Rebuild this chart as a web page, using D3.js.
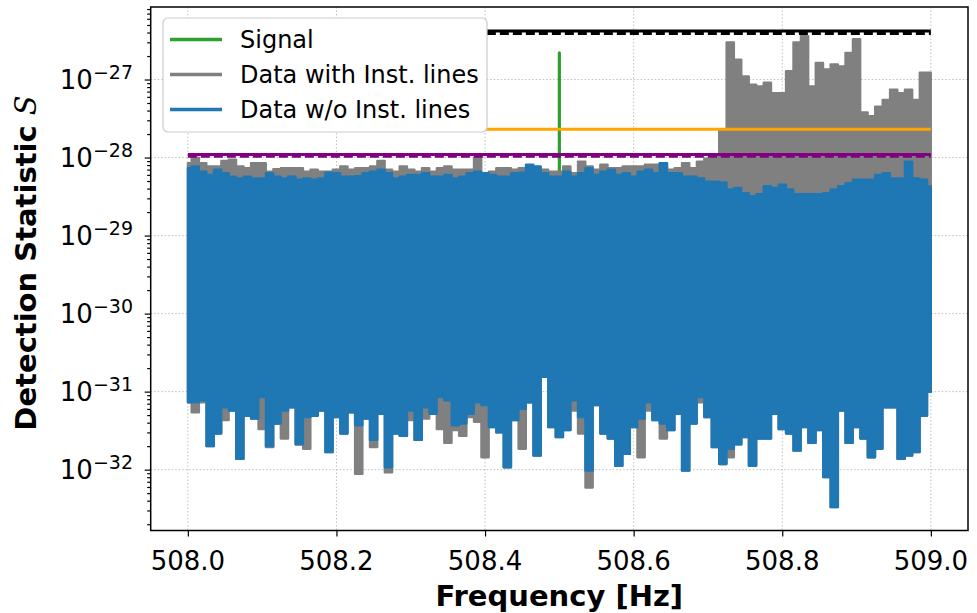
<!DOCTYPE html>
<html>
<head>
<meta charset="utf-8">
<script src="https://cdn.jsdelivr.net/npm/d3@7"></script>
<style>
body { margin: 0; background: white; }
svg { display: block; font-family: "DejaVu Sans", sans-serif; }
</style>
</head>
<body>
<svg id="chart" width="977" height="613"></svg>
<script>
// frequency bins (Hz), read every 0.01 Hz
var freqs = [508.00,508.01,508.02,508.03,508.04,508.05,508.06,508.07,508.08,508.09,
  508.10,508.11,508.12,508.13,508.14,508.15,508.16,508.17,508.18,508.19,
  508.20,508.21,508.22,508.23,508.24,508.25,508.26,508.27,508.28,508.29,
  508.30,508.31,508.32,508.33,508.34,508.35,508.36,508.37,508.38,508.39,
  508.40,508.41,508.42,508.43,508.44,508.45,508.46,508.47,508.48,508.49,
  508.50,508.51,508.52,508.53,508.54,508.55,508.56,508.57,508.58,508.59,
  508.60,508.61,508.62,508.63,508.64,508.65,508.66,508.67,508.68,508.69,
  508.70,508.71,508.72,508.73,508.74,508.75,508.76,508.77,508.78,508.79,
  508.80,508.81,508.82,508.83,508.84,508.85,508.86,508.87,508.88,508.89,
  508.90,508.91,508.92,508.93,508.94,508.95,508.96,508.97,508.98,508.99,
  509.00];

// "Data with Inst. lines": upper / lower envelope of the dense trace
var greyHigh = [8.5e-29,1.0e-28,8.5e-29,7.7e-29,7.7e-29,9.1e-29,9.4e-29,7.7e-29,7.3e-29,8.5e-29,
  8.5e-29,6.6e-29,7.1e-29,7.3e-29,7.3e-29,7.3e-29,6.6e-29,7.0e-29,6.6e-29,6.6e-29,
  7.0e-29,7.7e-29,7.0e-29,7.3e-29,7.3e-29,7.7e-29,9.1e-29,7.0e-29,6.6e-29,7.7e-29,
  7.0e-29,6.6e-29,7.3e-29,6.6e-29,7.3e-29,7.7e-29,7.0e-29,7.0e-29,7.0e-29,1.0e-28,
  6.3e-29,6.6e-29,7.3e-29,7.3e-29,7.0e-29,7.3e-29,7.0e-29,7.3e-29,7.0e-29,6.6e-29,
  6.6e-29,7.7e-29,6.3e-29,8.9e-29,7.7e-29,7.0e-29,8.1e-29,7.3e-29,7.3e-29,7.7e-29,
  7.7e-29,7.7e-29,8.1e-29,8.1e-29,8.5e-29,7.0e-29,7.3e-29,8.5e-29,7.3e-29,8.9e-29,
  9.7e-29,1.03e-28,2.3e-28,3.0e-27,1.8e-27,1.1e-27,8.6e-28,8.2e-28,9.1e-28,6.7e-28,
  6.7e-28,1.28e-27,3.0e-27,3.6e-27,8.2e-28,1.64e-27,1.35e-27,1.56e-27,1.48e-27,2.2e-27,
  3.3e-27,3.8e-28,3.4e-28,4.5e-28,5.5e-28,7.4e-28,6.7e-28,7.4e-28,5.5e-28,1.23e-27,
  1.23e-27];
var greyLow = [7.3e-32,5.4e-32,7.3e-32,2.0e-32,2.9e-32,4.3e-32,5.7e-32,1.37e-32,4.9e-32,4.5e-32,
  3.3e-32,1.94e-32,3.9e-32,2.5e-32,6.3e-32,2.1e-32,1.85e-32,4.9e-32,5.7e-32,1.67e-32,
  4.7e-32,2.9e-32,5.4e-32,8.8e-33,4.5e-32,1.94e-32,5.2e-32,9.2e-33,2.9e-32,2.7e-32,
  4.3e-32,2.4e-32,4.5e-32,5.2e-32,3.3e-32,2.2e-32,3.2e-32,2.7e-32,4.7e-32,4.1e-32,
  1.44e-32,3.5e-32,3.0e-32,1.07e-32,4.3e-32,1.85e-32,7.3e-32,1.51e-32,1.54e-31,3.5e-32,
  2.6e-32,3.2e-32,5.7e-32,2.9e-32,5.9e-33,6.7e-32,2.9e-32,2.5e-32,1.12e-32,1.59e-32,
  3.5e-32,1.44e-32,5.7e-32,4.3e-32,2.5e-32,3.2e-32,5.2e-32,9.7e-33,3.9e-32,7.3e-32,
  4.7e-32,1.94e-32,1.18e-32,1.44e-32,2.1e-32,2.6e-32,1.12e-32,2.5e-32,2.5e-32,5.2e-32,
  3.3e-32,2.9e-32,1.75e-32,3.5e-32,2.2e-32,3.2e-32,8.0e-33,3.3e-33,5.7e-32,2.2e-32,
  3.5e-32,2.5e-32,1.44e-32,1.85e-32,6.3e-32,6.3e-32,1.37e-32,1.51e-32,1.67e-32,4.9e-32,
  9.9e-32];

// "Data w/o Inst. lines"
var blueHigh = [7.3e-29,7.7e-29,6.6e-29,6.0e-29,7.0e-29,6.3e-29,5.7e-29,5.4e-29,5.7e-29,5.4e-29,
  5.4e-29,6.3e-29,5.7e-29,5.4e-29,5.7e-29,5.2e-29,5.4e-29,5.2e-29,5.4e-29,6.4e-29,
  6.3e-29,5.7e-29,5.7e-29,5.8e-29,6.3e-29,6.6e-29,7.0e-29,6.3e-29,5.4e-29,5.7e-29,
  6.0e-29,6.0e-29,6.3e-29,5.7e-29,5.7e-29,6.0e-29,5.4e-29,5.7e-29,6.3e-29,6.6e-29,
  6.3e-29,6.0e-29,5.7e-29,5.7e-29,6.3e-29,6.4e-29,8.1e-29,7.7e-29,6.3e-29,5.7e-29,
  5.7e-29,6.6e-29,5.7e-29,6.3e-29,7.3e-29,6.0e-29,6.6e-29,7.0e-29,6.0e-29,6.3e-29,
  5.7e-29,6.6e-29,7.0e-29,6.3e-29,8.5e-29,6.3e-29,6.3e-29,5.7e-29,5.7e-29,5.4e-29,
  4.9e-29,4.9e-29,4.8e-29,3.9e-29,4.1e-29,3.5e-29,3.2e-29,3.4e-29,4.3e-29,4.1e-29,
  4.5e-29,3.9e-29,3.4e-29,3.4e-29,3.4e-29,3.4e-29,3.5e-29,3.9e-29,4.3e-29,4.7e-29,
  5.2e-29,5.2e-29,5.2e-29,6.0e-29,6.3e-29,5.4e-29,5.4e-29,8.9e-29,5.4e-29,5.2e-29,
  4.3e-29];
var blueLow = [7.3e-32,7.3e-32,7.7e-32,2.0e-32,2.9e-32,6.3e-32,5.7e-32,1.37e-32,4.9e-32,4.5e-32,
  8.5e-32,2.0e-32,3.9e-32,5.7e-32,6.3e-32,2.1e-32,4.7e-32,4.9e-32,5.7e-32,1.67e-32,
  4.7e-32,2.9e-32,5.4e-32,3.7e-32,4.5e-32,2.4e-32,5.2e-32,1.07e-32,2.9e-32,2.7e-32,
  5.7e-32,2.4e-32,6.3e-32,5.2e-32,8.5e-32,7.7e-32,3.7e-32,3.9e-32,5.2e-32,7.3e-32,
  6.7e-32,3.5e-32,3.0e-32,1.07e-32,4.3e-32,6.0e-32,7.3e-32,1.51e-32,1.54e-31,3.5e-32,
  2.6e-32,3.2e-32,7.7e-32,4.7e-32,9.7e-33,6.7e-32,2.9e-32,2.5e-32,1.12e-32,1.59e-32,
  3.5e-32,4.5e-32,7.3e-32,4.3e-32,3.9e-32,3.2e-32,5.2e-32,9.7e-33,3.9e-32,8.5e-32,
  4.7e-32,1.94e-32,1.18e-32,1.85e-32,2.1e-32,2.6e-32,1.12e-32,2.5e-32,2.5e-32,5.2e-32,
  3.3e-32,2.9e-32,1.75e-32,3.5e-32,2.2e-32,3.2e-32,8.0e-33,3.3e-33,5.7e-32,2.2e-32,
  3.5e-32,2.5e-32,1.44e-32,1.85e-32,6.3e-32,6.3e-32,1.37e-32,1.51e-32,1.67e-32,4.9e-32,
  9.9e-32];

// injected signal spike
var signalFreqs = [508.5, 508.5];
var signalValues = [5.5e-29, 2.2e-27];

// horizontal threshold lines
var hlineValues = [3.9e-27, 4.2e-27, 2.3e-28, 1.04e-28, 1.09e-28];
var hlineColors = ["black", "black", "orange", "purple", "purple"];
var hlineDashed = [true, false, false, true, false];

var xTicks = [508.0, 508.2, 508.4, 508.6, 508.8, 509.0];
var yTicks = [1e-32, 1e-31, 1e-30, 1e-29, 1e-28, 1e-27];
var yTickExps = ["\u221232", "\u221231", "\u221230", "\u221229", "\u221228", "\u221227"];

var legendLabels = ["Signal", "Data with Inst. lines", "Data w/o Inst. lines"];
var legendColors = ["#2ca02c", "#808080", "#1f77b4"];

window.addEventListener("load", makeChart);
function makeChart() {
    var svg = d3.select("#chart");
    var L = 150.7, R = 968, T = 7, B = 530.5;
    var scX = d3.scaleLinear().domain([507.95, 509.05]).range([L, R]);
    var scY = d3.scaleLog().domain([1.66e-33, 8.5e-27]).range([B, T]);

    svg.append("defs").append("clipPath").attr("id", "clip")
        .append("rect").attr("x", L).attr("y", T)
        .attr("width", R - L).attr("height", B - T);

    // grid
    var grid = svg.append("g").attr("stroke", "#b0b0b0")
        .attr("stroke-width", 0.8).attr("stroke-dasharray", "1.5,2");
    grid.selectAll(".gx").data(xTicks).enter().append("line")
        .attr("x1", scX).attr("x2", scX).attr("y1", T).attr("y2", B);
    grid.selectAll(".gy").data(yTicks).enter().append("line")
        .attr("y1", scY).attr("y2", scY).attr("x1", L).attr("x2", R);

    var plot = svg.append("g").attr("clip-path", "url(#clip)");

    // signal
    plot.append("path")
        .attr("d", d3.line().x(d => scX(d[0])).y(d => scY(d[1]))(d3.zip(signalFreqs, signalValues)))
        .attr("stroke", "#2ca02c").attr("stroke-width", 3.2)
        .attr("stroke-linecap", "round").attr("fill", "none");

    // dense data traces drawn as stepped envelopes
    function band(lo, hi, color) {
        var area = d3.area().curve(d3.curveStep)
            .x((d, i) => scX(freqs[i]))
            .y0((d, i) => scY(lo[i])).y1((d, i) => scY(hi[i]));
        plot.append("path").attr("d", area(freqs))
            .attr("fill", color).attr("stroke", color)
            .attr("stroke-width", 2.2).attr("stroke-linejoin", "round");
    }
    band(greyLow, greyHigh, "#808080");
    band(blueLow, blueHigh, "#1f77b4");

    // threshold lines
    plot.selectAll(".hl").data(hlineValues).enter().append("line")
        .attr("x1", scX(508)).attr("x2", scX(509))
        .attr("y1", d => scY(d)).attr("y2", d => scY(d))
        .attr("stroke", (d, i) => hlineColors[i])
        .attr("stroke-width", 3)
        .attr("stroke-dasharray", (d, i) => hlineDashed[i] ? "9,4" : null);

    // axes
    var minor = scY.ticks().filter(v => yTicks.indexOf(v) < 0 && Math.abs(Math.log10(v) % 1) > 1e-6);
    var gY = svg.append("g").attr("transform", "translate(" + L + ",0)");
    gY.call(d3.axisLeft(scY).tickValues(minor).tickSize(3.5).tickFormat(""));
    gY.call(g => g.select(".domain").remove());
    var gY2 = svg.append("g").attr("transform", "translate(" + L + ",0)");
    gY2.call(d3.axisLeft(scY).tickValues(yTicks).tickSize(6).tickFormat(""));
    gY2.call(g => g.select(".domain").remove());
    svg.selectAll(".tick line").attr("stroke-width", 1.2);

    var gX = svg.append("g").attr("transform", "translate(0," + B + ")");
    gX.call(d3.axisBottom(scX).tickValues(xTicks).tickSize(6).tickFormat(""));
    gX.call(g => g.select(".domain").remove());
    gX.selectAll(".tick line").attr("stroke-width", 1.2);

    svg.append("rect").attr("x", L).attr("y", T)
        .attr("width", R - L).attr("height", B - T)
        .attr("fill", "none").attr("stroke", "black").attr("stroke-width", 1.5);

    // tick labels
    svg.append("g").selectAll("text").data(xTicks).enter().append("text")
        .attr("x", scX).attr("y", 570)
        .attr("text-anchor", "middle").attr("font-size", 26)
        .text(d3.format(".1f"));

    var yl = svg.append("g").selectAll("text").data(yTicks).enter().append("text")
        .attr("x", 133).attr("y", d => scY(d) + 9.5)
        .attr("text-anchor", "end").attr("font-size", 26);
    yl.append("tspan").text("10");
    yl.append("tspan").attr("dy", -10.5).attr("font-size", 19)
        .text((d, i) => yTickExps[i]);

    // axis labels
    svg.append("text").attr("x", (L + R) / 2).attr("y", 606)
        .attr("text-anchor", "middle").attr("font-size", 29).attr("font-weight", "bold")
        .text("Frequency [Hz]");
    var ylab = svg.append("text")
        .attr("transform", "translate(36,263) rotate(-90)")
        .attr("text-anchor", "middle").attr("font-size", 29).attr("font-weight", "bold");
    ylab.append("tspan").text("Detection Statistic ");
    ylab.append("tspan").attr("font-family", "DejaVu Serif").attr("font-style", "italic")
        .attr("font-weight", "normal").text("S");

    // legend
    var lg = svg.append("g");
    lg.append("rect").attr("x", 163).attr("y", 18).attr("width", 324).attr("height", 114)
        .attr("rx", 5).attr("fill", "white")
        .attr("stroke", "#cccccc").attr("stroke-width", 1.2);
    var items = lg.selectAll(".item").data(legendLabels).enter().append("g")
        .attr("transform", (d, i) => "translate(0," + (39.5 + i * 35) + ")");
    items.append("line").attr("x1", 170).attr("x2", 222)
        .attr("stroke", (d, i) => legendColors[i]).attr("stroke-width", 3.5);
    items.append("text").attr("x", 240).attr("y", 8.5).attr("font-size", 24)
        .text(d => d);
}
</script>
</body>
</html>
